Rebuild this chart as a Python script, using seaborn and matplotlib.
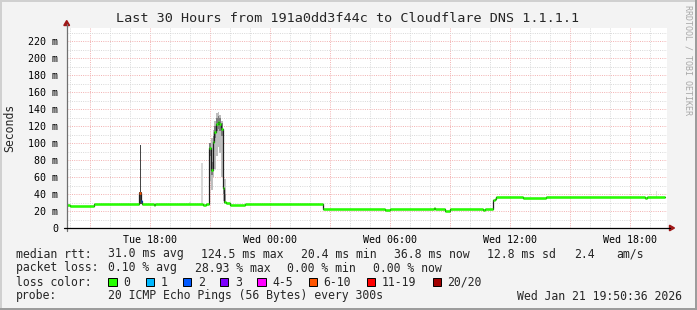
import numpy as np
import pandas as pd
import matplotlib
matplotlib.use("Agg")
import matplotlib.pyplot as plt
import seaborn as sns
from matplotlib.lines import Line2D
from matplotlib.patches import Rectangle, Polygon

# ---------------- data ----------------
title = "Last 30 Hours from 191a0dd3f44c to Cloudflare DNS 1.1.1.1"
start_time = pd.Timestamp("2026-01-20 13:50:36")
span_hours = 30

# median rtt step segments (hours since start, ms, loss class index)
seg_start = [0.00, 0.15, 1.35, 3.60, 3.68, 3.76, 4.35, 4.42, 6.80, 6.97,
             7.108, 7.192, 7.275, 7.358, 7.442, 7.525, 7.608, 7.692, 7.775, 7.858,
             7.942, 8.15, 8.90, 12.80, 15.90, 16.15, 18.35, 18.42, 18.90, 19.15,
             20.80, 20.90, 21.30, 21.38, 21.45, 22.80, 23.95, 28.90, 29.00]
seg_end = seg_start[1:] + [29.90]
seg_rtt = [27.0, 25.3, 28.5, 41.5, 31.5, 28.5, 27.2, 28.5, 27.5, 28.5,
           93.7, 68.2, 101.0, 113.0, 122.0, 124.5, 122.0, 116.5, 46.7, 31.0,
           29.0, 27.0, 28.5, 22.3, 20.8, 22.3, 23.8, 22.3, 20.4, 22.3,
           21.0, 22.3, 33.0, 34.0, 36.8, 35.3, 36.8, 35.0, 36.8]
seg_loss = [0, 0, 0, 5, 2, 0, 0, 0, 0, 0,
            0, 0, 0, 0, 0, 0, 0, 0, 0, 0,
            0, 0, 0, 0, 0, 0, 0, 0, 0, 0,
            0, 0, 0, 0, 0, 0, 0, 0, 0]

# smoke (ping spread) blocks: hours, ms range, density of pings
smoke_start = [6.10, 6.72, 3.60, 3.66, 16.15, 29.45,
               7.108, 7.192, 7.275, 7.358, 7.442, 7.525, 7.608, 7.692, 7.775, 7.858,
               7.108, 7.192, 7.275, 7.358, 7.442, 7.525, 7.608, 7.692, 7.775, 7.858]
smoke_end = [6.18, 6.80, 3.76, 3.70, 16.22, 29.52,
             7.192, 7.275, 7.358, 7.442, 7.525, 7.608, 7.692, 7.775, 7.858, 7.942,
             7.192, 7.275, 7.358, 7.442, 7.525, 7.608, 7.692, 7.775, 7.858, 7.942]
smoke_lo = [28.5, 28.0, 28.0, 41.0, 22.0, 37.0,
            55, 45, 60, 70, 85, 95, 88, 60, 32, 29,
            85, 62, 94, 106, 114, 117, 114, 108, 40, 29]
smoke_hi = [31.0, 76.0, 42.0, 98.0, 31.0, 43.0,
            100, 106, 115, 126, 135, 137, 133, 126, 72, 58,
            100, 78, 108, 120, 130, 132, 129, 124, 56, 40]
smoke_density = [0.15, 0.18, 0.85, 0.85, 0.15, 0.15,
                 0.30, 0.30, 0.30, 0.30, 0.30, 0.30, 0.30, 0.30, 0.30, 0.25,
                 0.60, 0.60, 0.60, 0.60, 0.60, 0.60, 0.60, 0.60, 0.55, 0.45]

y_ticks_ms = [0, 20, 40, 60, 80, 100, 120, 140, 160, 180, 200, 220]
y_tick_labels = ["0", "20 m", "40 m", "60 m", "80 m", "100 m", "120 m",
                 "140 m", "160 m", "180 m", "200 m", "220 m"]
x_label_times = ["2026-01-20 18:00", "2026-01-21 00:00", "2026-01-21 06:00",
                 "2026-01-21 12:00", "2026-01-21 18:00"]
x_tick_labels = ["Tue 18:00", "Wed 00:00", "Wed 06:00", "Wed 12:00", "Wed 18:00"]

loss_labels = ["0", "1", "2", "3", "4-5", "6-10", "11-19", "20/20"]
loss_colors = ["#26ff00", "#00b8ff", "#0059ff", "#7e00ff", "#ff00ff",
               "#ff5500", "#ff0000", "#a10000"]

stats_rtt = ["31.0 ms avg", "124.5 ms max", "20.4 ms min", "36.8 ms now",
             "12.8 ms sd", "2.4", "am/s"]
stats_loss = ["0.10 % avg", "28.93 % max", "0.00 % min", "0.00 % now"]
probe_text = "20 ICMP Echo Pings (56 Bytes) every 300s"
stamp_text = "Wed Jan 21 19:50:36 2026"

# ---------------- figure ----------------
W, H = 697, 310
sns.set_theme(style="white")
plt.rcParams['font.family'] = ['DejaVu Sans Mono', 'DejaVu Sans']
fig = plt.figure(figsize=(W / 100, H / 100), dpi=100, facecolor="#f3f3f3")

def fx(x):
    return x / W

def fy(y):
    return 1 - y / H

ax = fig.add_axes([fx(67), fy(228), 600 / W, 200 / H])
ax.set_facecolor("white")
ymax = (228 - 28) / 17.0 * 20.0
ax.set_xlim(0, span_hours)
ax.set_ylim(0, ymax)
for s in ax.spines.values():
    s.set_visible(False)

# ticks / grid
def hours(t):
    return (pd.Timestamp(t) - start_time) / pd.Timedelta(hours=1)

first_hour = (start_time.ceil("h") - start_time) / pd.Timedelta(hours=1)
minor_x = np.arange(first_hour, span_hours, 1.0)
major_x = np.array([h for h in minor_x if round(h - first_hour) % 3 == 1])
label_pos = [hours(t) for t in x_label_times]
lbls = []
for p in major_x:
    match = [x_tick_labels[i] for i, q in enumerate(label_pos) if abs(p - q) < 1e-6]
    lbls.append(match[0] if match else "")
ax.set_xticks(major_x)
ax.set_xticks(minor_x, minor=True)
ax.set_xticklabels(lbls)
ax.set_yticks(y_ticks_ms)
ax.set_yticklabels(y_tick_labels)
ax.set_yticks(np.arange(10, 231, 20), minor=True)

ax.tick_params(axis="both", which="both", labelsize=7.2, colors="#000000")
ax.tick_params(axis="y", which="major", length=3, width=0.8, color="#909090", pad=3.5)
ax.tick_params(axis="y", which="minor", length=2, width=0.8, color="#c8c8c8")
ax.tick_params(axis="x", which="major", length=3, width=0.8, color="#e07070", pad=2.0)
ax.tick_params(axis="x", which="minor", length=2, width=0.8, color="#c8c8c8")

ax.set_axisbelow(True)
ax.grid(which="minor", color="#d8d8d8", linestyle=(0, (1, 1.3)), linewidth=0.7)
ax.grid(which="major", color="#f2b0b0", linestyle=(0, (1, 1.3)), linewidth=0.7)

# smoke
for s0, s1, lo, hi, d in zip(smoke_start, smoke_end, smoke_lo, smoke_hi, smoke_density):
    g = 1.0 - 0.85 * d
    ax.bar(s0, hi - lo, bottom=lo, width=s1 - s0, align="edge",
           color=(g, g, g), linewidth=0, zorder=2)

# median: thin dark step line + loss-coloured horizontal segments
step_x = seg_start + [seg_end[-1]]
step_y = seg_rtt + [seg_rtt[-1]]
sns.lineplot(x=step_x, y=step_y, drawstyle="steps-post", estimator=None,
             sort=False, color="#202020", linewidth=0.9, ax=ax, zorder=3)
ax.hlines(seg_rtt, seg_start, seg_end, colors=[loss_colors[i] for i in seg_loss],
          linewidth=1.8, zorder=4)
ax.set_xlabel("")
ax.set_ylabel("")

# axes lines with arrows
fig.add_artist(Line2D([fx(66.7), fx(66.7)], [fy(231), fy(24)], color="#707070",
                      linewidth=0.9, transform=fig.transFigure))
fig.add_artist(Polygon([[fx(66.7), fy(20.5)], [fx(63.8), fy(25.5)], [fx(69.6), fy(25.5)]],
                       closed=True, color="#a01818", transform=fig.transFigure))
fig.add_artist(Line2D([fx(63.5), fx(670)], [fy(228), fy(228)], color="#000000",
                      linewidth=0.9, transform=fig.transFigure))
fig.add_artist(Polygon([[fx(674.5), fy(228)], [fx(669.5), fy(225.2)], [fx(669.5), fy(230.8)]],
                       closed=True, color="#a01818", transform=fig.transFigure))

# frame
fig.add_artist(Rectangle((0, fy(2)), 1, 2 / H, color="#d0d0d0", transform=fig.transFigure, lw=0))
fig.add_artist(Rectangle((0, 0), 2 / W, 1, color="#d0d0d0", transform=fig.transFigure, lw=0))
fig.add_artist(Rectangle((0, 0), 1, 2.5 / H, color="#9c9c9c", transform=fig.transFigure, lw=0))
fig.add_artist(Rectangle((fx(694.5), 0), 2.5 / W, 1, color="#9c9c9c", transform=fig.transFigure, lw=0))

# texts
fig.text(fx(348), fy(18), title, ha="center", va="center", fontsize=9.7)
fig.text(fx(10), fy(128), "Seconds", ha="center", va="center", rotation=90, fontsize=8.3)
fig.text(fx(688), fy(5), "RRDTOOL / TOBI OETIKER", ha="center", va="top",
         rotation=270, fontsize=6.0, color="#a8a8a8")

LF = 8.3
rows_y = [254, 268, 282, 296]
fig.text(fx(16), fy(rows_y[0]), "median rtt:", va="center", fontsize=LF)
for t, x in zip(stats_rtt, [108, 200.6, 301.4, 394, 487.3, 574, 616]):
    fig.text(fx(x), fy(rows_y[0]), t, va="center", fontsize=LF)
fig.text(fx(16), fy(rows_y[1]), "packet loss:", va="center", fontsize=LF)
for t, x in zip(stats_loss, [108, 194.8, 286.7, 373.2]):
    fig.text(fx(x), fy(rows_y[1]), t, va="center", fontsize=LF)
fig.text(fx(16), fy(rows_y[2]), "loss color:", va="center", fontsize=LF)
box_x = [108.3, 145.8, 182.8, 220.2, 257.2, 308.5, 366.5, 432.5]
for lab, col, bx in zip(loss_labels, loss_colors, box_x):
    fig.add_artist(Rectangle((fx(bx), fy(rows_y[2] + 4.2)), 8.3 / W, 8.3 / H,
                             facecolor=col, edgecolor="#000000", linewidth=0.7,
                             transform=fig.transFigure))
    fig.text(fx(bx + 15), fy(rows_y[2]), lab, va="center", fontsize=LF)
fig.text(fx(16), fy(rows_y[3]), "probe:", va="center", fontsize=LF)
fig.text(fx(108), fy(rows_y[3]), probe_text, va="center", fontsize=LF)
fig.text(fx(682), fy(rows_y[3]), stamp_text, va="center", ha="right", fontsize=LF)

fig.savefig("out.png", dpi=100, facecolor=fig.get_facecolor())
